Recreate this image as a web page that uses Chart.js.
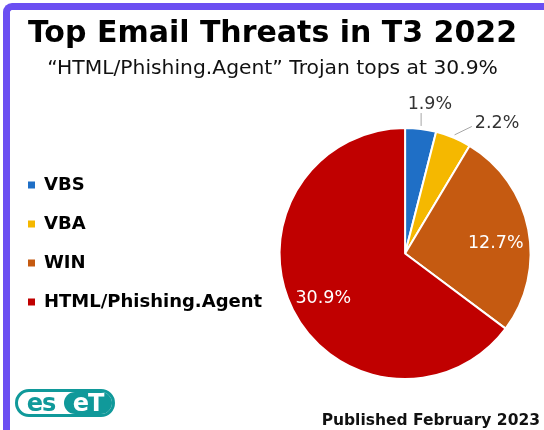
<!DOCTYPE html>
<html>
<head>
<meta charset="utf-8">
<title>Top Email Threats in T3 2022</title>
<script src="https://cdn.jsdelivr.net/npm/chart.js@4.4.0/dist/chart.umd.min.js"></script>
<style>
  html, body { margin: 0; padding: 0; background: #fff; }
  body { width: 544px; height: 430px; position: relative; overflow: hidden; font-family: "DejaVu Sans", sans-serif; }
  #frame {
    position: absolute; left: 3px; top: 3px; width: 620px; height: 520px;
    border-left: 7px solid #6b4ff2; border-top: 7px solid #6b4ff2;
    border-top-left-radius: 9px; box-sizing: border-box;
    pointer-events: none; z-index: 2;
  }
  #threats-chart { position: absolute; left: 0; top: 0; }
  #published {
    position: absolute; right: 4px; top: 411px; line-height: 18px;
    font-weight: bold; font-size: 15.5px; color: #111;
  }
  #eset-logo {
    position: absolute; left: 15px; top: 389px; width: 100px; height: 28px;
    border: 3px solid #10999a; border-radius: 15px; box-sizing: border-box;
    display: flex; overflow: hidden; font-weight: bold; font-size: 24px; line-height: 22px;
  }
  #eset-logo .es { color: #10999a; width: 46px; text-align: center; letter-spacing: -1px; }
  #eset-logo .et { color: #fff; background: #10999a; flex: 1; text-align: center; border-radius: 11px 0 0 11px; letter-spacing: -1px; }
</style>
</head>
<body>
<canvas id="threats-chart" width="544" height="430"></canvas>
<div id="frame"></div>
<div id="eset-logo"><span class="es">es</span><span class="et">eT</span></div>
<div id="published">Published February 2023</div>
<script>
// Top email threats, T3 2022 (share of detections, %)
const threatLabels = ['VBS', 'VBA', 'WIN', 'HTML/Phishing.Agent'];
const threatShares = [1.9, 2.2, 12.7, 30.9];
const sliceColors = ['#1f6fc6', '#f5b800', '#c55a11', '#c00000'];

const chartTitle = 'Top Email Threats in T3 2022';
const chartSubtitle = '\u201CHTML/Phishing.Agent\u201D Trojan tops at 30.9%';

// percentage labels on / next to the slices (no datalabels plugin here)
const sliceLabels = {
  id: 'sliceLabels',
  afterDatasetsDraw(chart, args, opts) {
    const ctx = chart.ctx;
    const meta = chart.getDatasetMeta(0);
    const values = chart.data.datasets[0].data;
    ctx.save();
    ctx.font = opts.font;
    ctx.textAlign = 'center';
    ctx.textBaseline = 'middle';
    meta.data.forEach((arc, i) => {
      const p = arc.getProps(['x', 'y', 'startAngle', 'endAngle', 'outerRadius'], true);
      const mid = (p.startAngle + p.endAngle) / 2;
      const inside = opts.inside[i];
      const dist = p.outerRadius * (inside ? opts.insideRadius : opts.outsideRadius);
      const nudge = opts.nudge[i] || [0, 0];
      const lx = p.x + Math.cos(mid) * dist + nudge[0];
      const ly = p.y + Math.sin(mid) * dist + nudge[1];
      const text = values[i].toFixed(1) + '%';

      if (!inside) {
        // short leader line back to the slice
        const sx = p.x + Math.cos(mid) * (p.outerRadius + 3);
        const sy = p.y + Math.sin(mid) * (p.outerRadius + 3);
        const w = ctx.measureText(text).width;
        let ex, ey;
        if (Math.abs(lx - sx) < w / 2) {
          ex = sx; ey = ly + 9;
        } else {
          ex = lx - w / 2 - 3; ey = ly + 3;
        }
        ctx.strokeStyle = opts.leaderColor;
        ctx.lineWidth = 1;
        ctx.beginPath();
        ctx.moveTo(sx, sy);
        ctx.lineTo(ex, ey);
        ctx.stroke();
      }
      ctx.fillStyle = inside ? opts.insideColor : opts.outsideColor;
      ctx.fillText(text, lx, ly);
    });
    ctx.restore();
  }
};

const chartElement = document.getElementById('threats-chart');

const legendDefaults = Chart.overrides.pie.plugins.legend.labels;

new Chart(chartElement, {
  type: 'pie',
  data: {
    labels: threatLabels,
    datasets: [{
      data: threatShares,
      backgroundColor: sliceColors,
      borderColor: '#ffffff',
      borderWidth: 2
    }]
  },
  plugins: [sliceLabels],
  options: {
    responsive: false,
    animation: false,
    layout: { padding: { top: 8, left: 7, right: 6, bottom: 50 } },
    plugins: {
      title: {
        display: true,
        text: chartTitle,
        color: '#000',
        font: { family: 'DejaVu Sans', size: 30, weight: 'bold' },
        padding: { top: 8, bottom: 0 }
      },
      subtitle: {
        display: true,
        text: chartSubtitle,
        color: '#111',
        font: { family: 'DejaVu Sans', size: 20.3, weight: 'normal' },
        padding: { top: 5, bottom: 45.6 }
      },
      legend: {
        position: 'left',
        align: 'start',
        fullSize: false,
        title: {
          display: true,
          text: '',
          font: { size: 10 },
          padding: { top: 16, bottom: 0 }
        },
        labels: {
          boxWidth: 7,
          boxHeight: 7,
          padding: 21,
          color: '#000',
          font: { family: 'DejaVu Sans', size: 18, weight: 'bold' },
          generateLabels: function(chart) {
            return legendDefaults.generateLabels(chart).map(item => ({ ...item, lineWidth: 0 }));
          }
        }
      },
      tooltip: { enabled: false },
      sliceLabels: {
        font: '17.5px "DejaVu Sans"',
        inside: [false, false, true, true],
        insideRadius: 0.72,
        outsideRadius: 1.2,
        nudge: [[6, 0], [34, 9], [2, 7], [-1, 5]],
        insideColor: '#ffffff',
        outsideColor: '#333333',
        leaderColor: '#a6a6a6'
      }
    }
  }
});
</script>
</body>
</html>
